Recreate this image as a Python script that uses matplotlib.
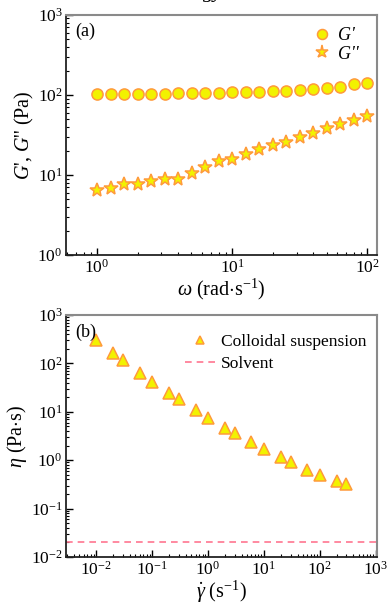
import numpy as np
import matplotlib
matplotlib.use("Agg")
from matplotlib import pyplot as plt
from matplotlib.ticker import LogLocator

# DATA
omega = [1.0, 1.26, 1.58, 2.0, 2.51, 3.16, 3.98, 5.01, 6.31, 7.94, 10.0,
         12.6, 15.8, 20.0, 25.1, 31.6, 39.8, 50.1, 63.1, 79.4, 100.0]
g_storage = [104, 104, 104, 104, 104, 104, 105, 106, 106, 107, 108,
             109, 110, 112, 113, 115, 117, 121, 124, 136, 142]
g_loss = [6.4, 6.8, 7.6, 7.7, 8.3, 9.0, 8.8, 10.7, 12.6, 14.8, 15.8,
          18.2, 21.0, 23.8, 25.6, 30.0, 33.0, 38.5, 43.0, 49.0, 54.0]

shear_rate = [0.01, 0.02, 0.03, 0.06, 0.1, 0.2, 0.3, 0.6, 1, 2, 3, 6,
              10, 20, 30, 60, 100, 200, 300]
viscosity = [300, 165, 115, 63, 42, 24.5, 18, 11, 7.6, 4.7, 3.6, 2.35,
             1.7, 1.15, 0.9, 0.63, 0.5, 0.37, 0.32]
solvent_eta = 0.02

plt.rcParams['font.family'] = ['Liberation Serif', 'DejaVu Serif']
plt.rcParams['mathtext.fontset'] = 'custom'
plt.rcParams['mathtext.rm'] = 'Liberation Serif'
plt.rcParams['mathtext.it'] = 'Liberation Serif:italic'
plt.rcParams['axes.unicode_minus'] = False
plt.rcParams['font.size'] = 11

FACE = '#f2f200'
EDGE = '#ff9a3c'
LABEL_SIZE = 14.5


def style_axes(ax):
    for axis in [ax.xaxis, ax.yaxis]:
        axis.set_major_locator(LogLocator(base=10, numticks=20))
        axis.set_minor_locator(LogLocator(base=10, subs=np.arange(2, 10),
                                          numticks=20))
    ax.tick_params(which='both', direction='in', top=False, right=False,
                   labelsize=12.5, pad=2.5)
    ax.tick_params(which='major', length=5, width=1)
    ax.tick_params(which='minor', length=2.5, width=0.8)
    for side in ['left', 'bottom']:
        ax.spines[side].set_color('#222222')
        ax.spines[side].set_linewidth(1.3)
    for side in ['top', 'right']:
        ax.spines[side].set_color('#8a8a8a')
        ax.spines[side].set_linewidth(1.5)


fig = plt.figure(figsize=(3.91, 6.05), dpi=100)
fig.text(0.545, 1.012, 'gy', ha='center', va='center', fontsize=16,
         style='italic')

# (a) oscillatory sweep
ax1 = fig.add_axes([0.169, 0.5785, 0.795, 0.397])
ax1.set_xscale('log')
ax1.set_yscale('log')
ax1.plot(omega, g_storage, 'o', ms=8, mfc=FACE, mec=EDGE, mew=1.1,
         label="G'")
ax1.plot(omega, g_loss, '*', ms=10.5, mfc=FACE, mec=EDGE, mew=1.1,
         label="G''")
ax1.set_xlim(0.59, 118)
ax1.set_ylim(1, 1000)
ax1.set_xlabel(r'$\omega$ (rad$\cdot$s$^{-1}$)', fontsize=LABEL_SIZE,
               labelpad=0)
ax1.set_ylabel(r"$G$', $G$'' (Pa)", fontsize=LABEL_SIZE, labelpad=1)
ax1.text(0.03, 0.93, '(a)', transform=ax1.transAxes, fontsize=13,
         va='center')
leg1 = ax1.legend(loc='upper right', bbox_to_anchor=(1.0, 1.025),
                  frameon=False, prop={'size': 13, 'style': 'italic'},
                  markerscale=0.9, handletextpad=0.4, labelspacing=0.1,
                  borderaxespad=0.7, handlelength=1.0, borderpad=0.3)
style_axes(ax1)

# (b) flow curve
ax2 = fig.add_axes([0.169, 0.0793, 0.795, 0.40])
ax2.set_xscale('log')
ax2.set_yscale('log')
ax2.plot(shear_rate, viscosity, '^', ms=8, mfc=FACE, mec=EDGE, mew=1.1,
         label='Colloidal suspension')
ax2.axhline(solvent_eta, color='#ff7590', ls='--', lw=1.2,
            dashes=(4, 3), label='Solvent')
ax2.set_xlim(0.0029, 1050)
ax2.set_ylim(0.01, 1000)
ax2.set_xlabel(r'$\dot{\gamma}$ (s$^{-1}$)', fontsize=LABEL_SIZE, labelpad=0)
ax2.set_ylabel(r'$\eta$ (Pa$\cdot$s)', fontsize=LABEL_SIZE, labelpad=1)
ax2.text(0.03, 0.93, '(b)', transform=ax2.transAxes, fontsize=13,
         va='center')
leg2 = ax2.legend(loc='upper right', bbox_to_anchor=(1.0, 0.967),
                  frameon=False, fontsize=12.5,
                  markerscale=0.8, handletextpad=0.3, labelspacing=0.35,
                  borderaxespad=0.2, handlelength=1.8, borderpad=0.4)
style_axes(ax2)

fig.savefig('out.png', dpi=100)
